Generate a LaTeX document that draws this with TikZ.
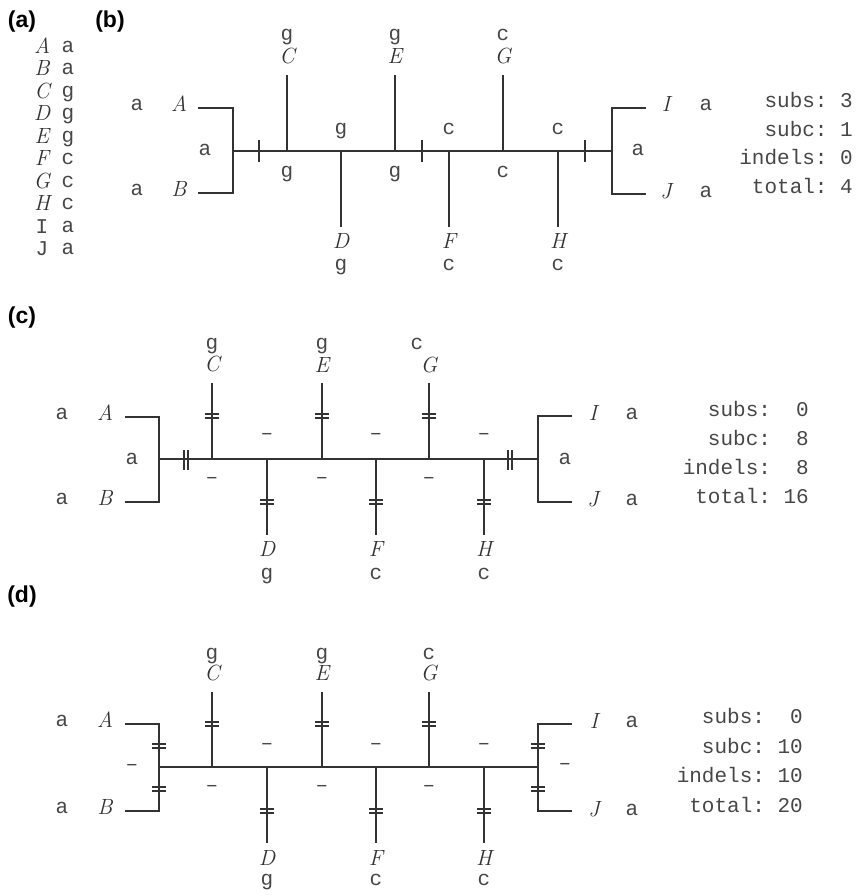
\documentclass[tikz,border=0pt]{standalone}
\usepackage{fontspec}
\setmonofont{Liberation Mono}
\newfontfamily\plabelfont{Liberation Sans}
\begin{document}
\begin{tikzpicture}[x=1pt,y=-1pt,
  seq/.style={font=\ttfamily\fontsize{21}{21}\selectfont, text=black!72, inner sep=0pt, text height=1ex, text depth=0pt},
  tax/.style={font=\fontsize{22}{22}\selectfont\itshape, text=black!80, inner sep=0pt, text height=0.68em, text depth=0pt},
  score/.style={font=\ttfamily\fontsize{21}{21}\selectfont, text=black!72, inner sep=0pt, anchor=base east},
  plab/.style={font=\plabelfont\bfseries\fontsize{23}{23}\selectfont, inner sep=0pt},
  br/.style={line width=1.2pt, draw=black!80},
  hbars/.pic={\draw[br] (-7,-2) -- (7,-2) (-7,2) -- (7,2);},
  vbars/.pic={\draw[br] (-2,-10) -- (-2,10) (2,-10) -- (2,10);}
]
\useasboundingbox (0,0) rectangle (856,895);

% ---------------- panel labels
\node[plab] (pa) at (22,22) {(a)};
\node[plab] (pb) at (110,22) {(b)};
\node[plab] (pc) at (22,318) {(c)};
\node[plab] (pd) at (22,597) {(d)};

% ---------------- panel (a)
\foreach \n/\s [count=\i from 0] in {A/a,B/a,C/g,D/g,E/g,F/c,G/c,H/c}{
  \node[tax] (la\n) at (42,50+22.5*\i) {\n};
  \node[seq] (ls\n) at (68,50+22.5*\i) {\s};
}
\node[seq, text height=0.62em] (laI) at (42,230) {I};
\node[seq] (lsI) at (68,230) {a};
\node[seq, text height=0.62em] (laJ) at (42,252.5) {J};
\node[seq] (lsJ) at (68,252.5) {a};

% ---------------- panel (b)
\node[seq] (bAs) at (137,108) {a};
\node[tax] (bA) at (179,108) {A};
\node[seq] (bBs) at (137,193) {a};
\node[tax] (bB) at (179,193) {B};
\node[seq] (bLa) at (205,153) {a};
\coordinate (bAe) at (198,108); \coordinate (bAj) at (233,108);
\coordinate (bBe) at (198,193); \coordinate (bBj) at (233,193);
\coordinate (bL) at (233,151); \coordinate (bR) at (612,151);
\draw[br] (bAe) -- (bAj) -- (bBj) -- (bBe);
\draw[br] (bL) -- (bR);
\foreach \n/\x/\e/\tl/\sl/\s in {C/287/75/60/38/g, E/395/75/60/38/g, G/503/75/60/38/c,
                                D/341/227/245/268/g, F/449/227/245/268/c, H/558/227/245/268/c}{
  \coordinate (bj\n) at (\x,151);
  \coordinate (be\n) at (\x,\e);
  \draw[br] (bj\n) -- (be\n);
  \node[tax] (b\n) at (\x,\tl) {\n};
  \node[seq] (bs\n) at (\x,\sl) {\s};
}
\foreach \x [count=\i] in {259,422,585}{
  \coordinate (bt\i a) at (\x,140); \coordinate (bt\i b) at (\x,162);
  \draw[br] (bt\i a) -- (bt\i b);
}
\node[seq] (bu1) at (341,132) {g};
\node[seq] (bu2) at (449,132) {c};
\node[seq] (bu3) at (558,132) {c};
\node[seq] (bd1) at (287,175) {g};
\node[seq] (bd2) at (395,175) {g};
\node[seq] (bd3) at (503,175) {c};
\coordinate (bIj) at (612,108); \coordinate (bIe) at (646,108);
\coordinate (bJj) at (612,194); \coordinate (bJe) at (646,194);
\draw[br] (bIe) -- (bIj) -- (bJj) -- (bJe);
\node[seq] (bRa) at (638,153) {a};
\node[tax] (bI) at (666,108) {I};
\node[seq] (bIs) at (706,108) {a};
\node[tax] (bJ) at (666,195) {J};
\node[seq] (bJs) at (706,195) {a};
\node[score] (bsc1) at (853,107) {subs: 3};
\node[score] (bsc2) at (853,136) {subc: 1};
\node[score] (bsc3) at (853,164) {indels: 0};
\node[score] (bsc4) at (853,193) {total: 4};

% ---------------- panel (c)
\node[seq] (cAs) at (62,417) {a};
\node[tax] (cA) at (105,417) {A};
\node[seq] (cBs) at (62,502) {a};
\node[tax] (cB) at (105,502) {B};
\node[seq] (cLa) at (132,462) {a};
\coordinate (cAe) at (125,417); \coordinate (cAj) at (159,417);
\coordinate (cBe) at (125,502); \coordinate (cBj) at (159,502);
\coordinate (cL) at (159,459); \coordinate (cR) at (538,459);
\draw[br] (cAe) -- (cAj) -- (cBj) -- (cBe);
\draw[br] (cL) -- (cR);
\pic at (186,460) {vbars};
\pic at (510,460) {vbars};
\foreach \n/\x/\e/\t/\tl/\sl/\sx/\s in {C/212/383/416/368/347/212/g, E/322/383/416/369/347/322/g, G/429/383/416/369/347/417/c,
                                      D/267/535/502/553/577/267/g, F/376/535/502/553/577/376/c, H/484/535/502/553/577/484/c}{
  \coordinate (cj\n) at (\x,459);
  \coordinate (ce\n) at (\x,\e);
  \draw[br] (cj\n) -- (ce\n);
  \pic at (\x,\t) {hbars};
  \node[tax] (c\n) at (\x,\tl) {\n};
  \node[seq] (cs\n) at (\sx,\sl) {\s};
}
\foreach \x [count=\i] in {267,376,484}{ \node[seq] (cu\i) at (\x,437) {–}; }
\foreach \x [count=\i] in {212,322,429}{ \node[seq] (cd\i) at (\x,481) {–}; }
\coordinate (cIj) at (538,416); \coordinate (cIe) at (572,416);
\coordinate (cJj) at (538,502); \coordinate (cJe) at (572,502);
\draw[br] (cIe) -- (cIj) -- (cJj) -- (cJe);
\node[seq] (cRa) at (565,462) {a};
\node[tax] (cI) at (593,417) {I};
\node[seq] (cIs) at (632,417) {a};
\node[tax] (cJ) at (593,503) {J};
\node[seq] (cJs) at (632,503) {a};
\node[score] (csc1) at (809,416) {subs:~~0};
\node[score] (csc2) at (809,445) {subc:~~8};
\node[score] (csc3) at (809,474) {indels:~~8};
\node[score] (csc4) at (809,503) {total:~16};

% ---------------- panel (d)
\node[seq] (dAs) at (62,724) {a};
\node[tax] (dA) at (105,724) {A};
\node[seq] (dBs) at (62,811) {a};
\node[tax] (dB) at (105,811) {B};
\node[seq] (dLa) at (132,768) {–};
\coordinate (dAe) at (125,724); \coordinate (dAj) at (159,724);
\coordinate (dBe) at (125,811); \coordinate (dBj) at (159,811);
\coordinate (dL) at (159,767); \coordinate (dR) at (538,767);
\draw[br] (dAe) -- (dAj) -- (dBj) -- (dBe);
\draw[br] (dL) -- (dR);
\pic at (159,746) {hbars};
\pic at (159,789) {hbars};
\foreach \n/\x/\e/\t/\tl/\sl/\s in {C/212/692/724/677/657/g, E/322/692/724/677/657/g, G/429/692/724/677/657/c,
                                   D/267/843/811/862/883/g, F/376/843/811/862/883/c, H/484/843/811/862/883/c}{
  \coordinate (dj\n) at (\x,767);
  \coordinate (de\n) at (\x,\e);
  \draw[br] (dj\n) -- (de\n);
  \pic at (\x,\t) {hbars};
  \node[tax] (d\n) at (\x,\tl) {\n};
  \node[seq] (ds\n) at (\x,\sl) {\s};
}
\foreach \x [count=\i] in {267,376,484}{ \node[seq] (du\i) at (\x,747) {–}; }
\foreach \x [count=\i] in {212,322,429}{ \node[seq] (dd\i) at (\x,789) {–}; }
\coordinate (dIj) at (538,724); \coordinate (dIe) at (572,724);
\coordinate (dJj) at (538,811); \coordinate (dJe) at (572,811);
\draw[br] (dIe) -- (dIj) -- (dJj) -- (dJe);
\pic at (538,746) {hbars};
\pic at (538,789) {hbars};
\node[seq] (dRa) at (565,767) {–};
\node[tax] (dI) at (594,725) {I};
\node[seq] (dIs) at (632,725) {a};
\node[tax] (dJ) at (594,813) {J};
\node[seq] (dJs) at (632,813) {a};
\node[score] (dsc1) at (803,723) {subs:~~0};
\node[score] (dsc2) at (803,753) {subc:~10};
\node[score] (dsc3) at (803,782) {indels:~10};
\node[score] (dsc4) at (803,812) {total:~20};
\end{tikzpicture}
\end{document}
